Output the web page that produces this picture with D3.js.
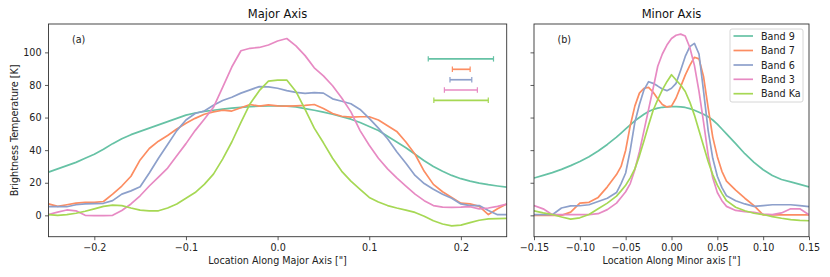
<!DOCTYPE html>
<html><head><meta charset="utf-8">
<script src="https://cdn.jsdelivr.net/npm/d3@7"></script>
<style>body{margin:0;background:#fff}text{font-family:"DejaVu Sans",sans-serif}</style>
</head><body><svg id="c" width="830" height="277"></svg>
<script>
const bands = ["Band 9","Band 7","Band 6","Band 3","Band Ka"];
const colors = ["#66c2a5","#fc8d62","#8da0cb","#e78ac3","#a6d854"];

// Major axis: x from -0.25 to 0.25 step 0.01
const majorX = d3.range(-25, 26).map(i => i / 100);
const major9 = [26.5,28.5,30.5,32.5,35,37.5,40.5,44,47,49.5,51.5,53.5,55.5,57.5,59.5,61.5,62.8,63.8,64.5,65.2,65.8,66.3,66.7,67,67.2,67.2,67,66.5,65.5,64.5,63.3,62,60.5,59,57,54.5,52,48.5,45,41.5,37.5,33.5,30,27,24.5,22.5,21,19.8,18.8,18,17.3];
const major7 = [7,5.5,6.5,7.5,8,8,8.5,13,18,24,34,41,45.5,49,53,56.5,59.5,62,63.5,64.5,64,66,68,67,67.8,67.2,67,67.2,67.5,68,65.5,62.5,60.8,60.3,60.5,60.5,58.5,55,51.5,45,37.5,27,19,14.5,11,7.5,7,5.5,0.5,4,7];
const major6 = [5.3,5.3,5.3,6.5,7,7.2,7.4,9,13,15,17.5,26,35,43.5,52,58.5,62.5,64,67.5,70.5,72.5,75,77,79,78.8,78,76.5,75.5,74.8,75.3,75,71.5,70,68.5,65,59.5,53.5,47,39,32,24.5,19.5,16,13,10.5,7,6,6,3,0.4,0.4];
const major3 = [0.5,2,3.3,2.8,0,-0.2,-0.2,0,3,7,12,18,23.5,29,36.5,44,52,59,66.3,78.5,91,101,102.5,103,104.5,107,108.5,104,98,90.5,85.6,79.5,72,63.5,52,43,35,28.5,23,18,13,9,6,5,4.9,5,5.3,4,4.5,5.5,6.9];
const majorKa = [0.5,0,0.5,1.3,2.5,4,5.5,6.3,6,4.5,3.2,2.8,2.8,4.5,7,10.5,14,19,25.3,34.5,45,57,68.5,76.5,82.3,83,83,76,65,53.5,44.5,35,27,21,16,11,8.2,6,4.5,3.2,1.8,-0.5,-3.3,-5.3,-6.5,-6,-4.5,-3,-2.2,-2,-1.9];

// Minor axis x positions
const minorX = [-0.15,-0.14,-0.13,-0.12,-0.11,-0.10,-0.09,-0.08,-0.07,-0.06,-0.055,-0.05,-0.045,-0.04,-0.035,-0.03,-0.025,-0.02,-0.015,-0.01,-0.005,0,0.005,0.01,0.015,0.02,0.025,0.03,0.035,0.04,0.045,0.05,0.055,0.06,0.07,0.08,0.09,0.10,0.11,0.12,0.13,0.14,0.15];
const minor9 = [22.9,24.5,26.2,28.2,30.5,33,36,39.5,43.5,48,50.5,53,55.5,58,60,62,63.7,65,65.8,66.3,66.6,66.7,66.7,66.6,66.2,65.5,64.5,63.3,62,60.5,58.5,56,53,50,44,37.8,32.5,28,24.5,22,20.5,19,17.5];
const minor7 = [0,0,0,0,2,7.5,8,11,17.5,25,30,40,55,67,75,78,78.5,75.5,71.5,68,66.5,67,72,79,86,92,97,96,85,66,48,36,27,21,15.5,10.5,6,0.3,0.3,0.3,0.3,0.3,0.3];
const minor6 = [0.4,0.4,0.4,4.5,5.8,5.9,6.5,8.5,10.5,14,19.5,26,40,57,68,77,82,81,79.3,77.5,76.5,78,81,89,97.5,103.5,105.5,99,76,52,35,24,17,12,9,7,5.5,6,6.5,6.5,6.5,6,5.3];
const minor3 = [6,4,0.4,0.4,0.4,0.4,0.4,1,3.5,7.5,11,14.5,19.5,28,39,52,65,78,91.5,99,104.5,108.5,110.5,111.2,110,103,92,76,57,37,23,14,9,5.5,3,2.3,1.8,0.8,0.4,1.5,4,4,0.4];
const minorKa = [2.8,1.5,0.5,-1,-2.3,-1.5,0.5,4,7.5,11.8,15,18.5,23,28.5,36.5,45.8,55.5,64.5,71,77,82,86.3,83,80,76,69.5,61.5,52,42.5,33,25,18.5,13.5,9,5,2.8,1.3,0.5,-0.8,-1.8,-2.6,-3.1,-3.3];

// beam sizes (error bars) in left panel: center x, half width, y
const beamCenter = [0.2,0.2004,0.2,0.2,0.2002];
const beamHalf = [0.0356,0.0097,0.0119,0.018,0.0297];
const beamY = [96,89.6,83.2,76.9,70.6];

const yTicks = [0,20,40,60,80,100];
const majorTicks = [-0.2,-0.1,0,0.1,0.2];
const minorTicks = [-0.15,-0.10,-0.05,0,0.05,0.10,0.15];

const FS = 9.6, TFS = 11.5;
const svg = d3.select("#c");
const yTop = 24, yBot = 236.7;
const y = d3.scaleLinear().domain([-13.1, 117.4]).range([yBot, yTop]);
const xA = d3.scaleLinear().domain([-0.25, 0.25]).range([48.5, 506.7]);
const xB = d3.scaleLinear().domain([-0.15, 0.15]).range([534, 809]);

function panel(x, xs, series, ticks, fmt, title, label, tag, showY, id) {
  const g = svg.append("g");
  const [x0, x1] = x.range();
  g.append("clipPath").attr("id", id).append("rect")
    .attr("x", x0).attr("y", yTop).attr("width", x1 - x0).attr("height", yBot - yTop);
  const line = d3.line().x((d, i) => x(xs[i])).y(d => y(d));
  const lg = g.append("g").attr("clip-path", `url(#${id})`);
  series.forEach((s, k) => {
    lg.append("path").attr("d", line(s)).attr("fill", "none")
      .attr("stroke", colors[k]).attr("stroke-width", 1.7).attr("stroke-linejoin", "round");
  });
  const ax = g.append("g").attr("transform", `translate(0,${yBot})`)
    .call(d3.axisBottom(x).tickValues(ticks).tickFormat(fmt).tickSizeOuter(0).tickSize(3.5).tickPadding(3.5));
  const ay = g.append("g").attr("transform", `translate(${x0},0)`)
    .call(d3.axisLeft(y).tickValues(yTicks).tickFormat(showY ? d3.format("d") : "").tickSizeOuter(0).tickSize(3.5).tickPadding(3.5));
  [ax, ay].forEach(a => {
    a.select(".domain").remove();
    a.selectAll("line").attr("stroke", "#333").attr("stroke-width", 0.8);
    a.selectAll("text").attr("font-size", FS).attr("fill", "#222").attr("font-family", "DejaVu Sans");
  });
  g.append("rect").attr("x", x0).attr("y", yTop).attr("width", x1 - x0).attr("height", yBot - yTop)
    .attr("fill", "none").attr("stroke", "#333").attr("stroke-width", 0.9);
  g.append("text").attr("x", (x0 + x1) / 2).attr("y", 18).attr("text-anchor", "middle")
    .attr("font-size", TFS).attr("fill", "#111").text(title);
  g.append("text").attr("x", (x0 + x1) / 2).attr("y", 264).attr("text-anchor", "middle")
    .attr("font-size", FS).attr("fill", "#222").text(label);
  g.append("text").attr("x", x0 + 23.5).attr("y", 42.5).attr("font-size", FS).attr("fill", "#222").text(tag);
  return g;
}

const gA = panel(xA, majorX, [major9, major7, major6, major3, majorKa], majorTicks, d3.format(".1f"),
  "Major Axis", "Location Along Major Axis [\"]", "(a)", true, "clipA");
const gB = panel(xB, minorX, [minor9, minor7, minor6, minor3, minorKa], minorTicks, d3.format(".2f"),
  "Minor Axis", "Location Along Minor axis [\"]", "(b)", false, "clipB");

svg.append("text").attr("transform", `translate(18,${(yTop + yBot) / 2}) rotate(-90)`)
  .attr("text-anchor", "middle").attr("font-size", FS).attr("fill", "#222").text("Brightness Temperature [K]");

beamY.forEach((v, k) => {
  const xl = xA(beamCenter[k] - beamHalf[k]), xr = xA(beamCenter[k] + beamHalf[k]), yy = y(v);
  const c = colors[k];
  gA.append("line").attr("x1", xl).attr("x2", xr).attr("y1", yy).attr("y2", yy).attr("stroke", c).attr("stroke-width", 1.7);
  [xl, xr].forEach(xx => gA.append("line").attr("x1", xx).attr("x2", xx).attr("y1", yy - 2.7).attr("y2", yy + 2.7)
    .attr("stroke", c).attr("stroke-width", 1.2));
});

const lgd = svg.append("g");
lgd.append("rect").attr("x", 730).attr("y", 29).attr("width", 73).attr("height", 73).attr("rx", 2)
  .attr("fill", "#fff").attr("fill-opacity", 0.8).attr("stroke", "#ccc").attr("stroke-width", 0.8);
const rowY = [36, 50.5, 65, 79.3, 93.7];
bands.forEach((b, k) => {
  lgd.append("line").attr("x1", 733.5).attr("x2", 753).attr("y1", rowY[k]).attr("y2", rowY[k])
    .attr("stroke", colors[k]).attr("stroke-width", 1.7);
  lgd.append("text").attr("x", 761).attr("y", rowY[k] + 3.5).attr("font-size", FS).attr("fill", "#222").text(b);
});
</script></body></html>
